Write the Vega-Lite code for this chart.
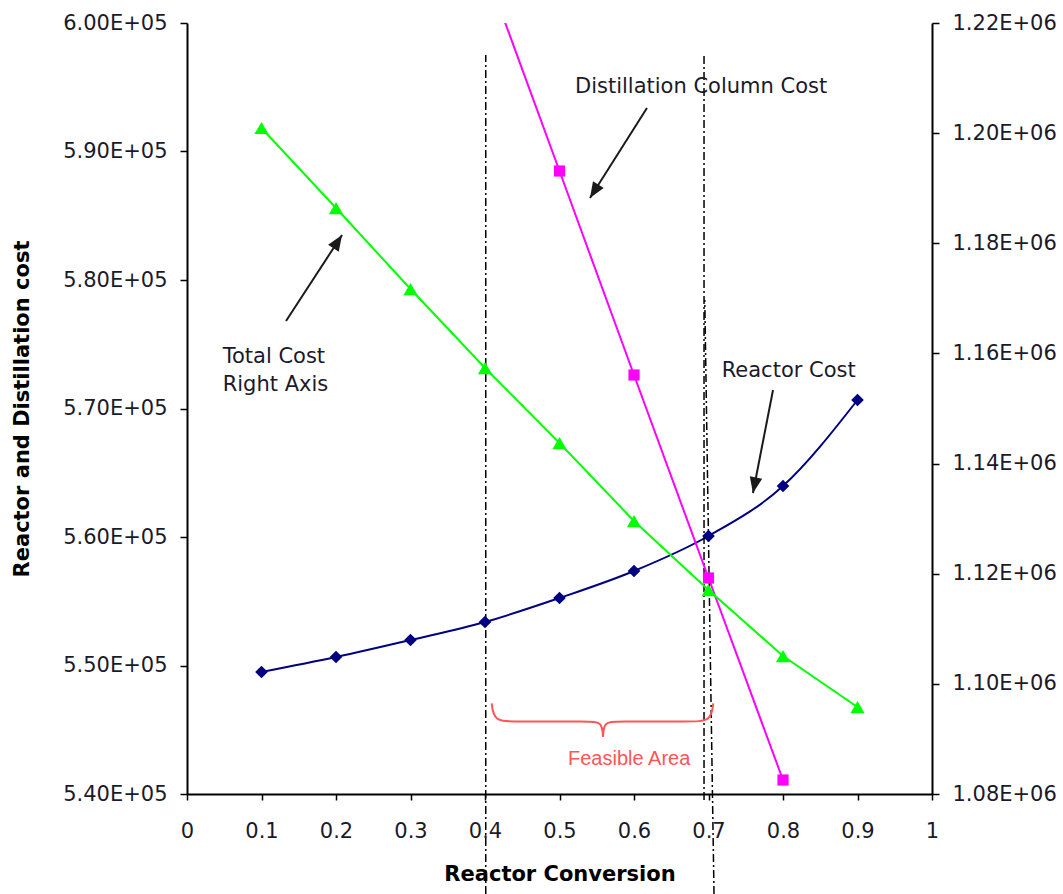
{
  "$schema": "https://vega.github.io/schema/vega-lite/v6.json",
  "width": 745,
  "height": 771,
  "autosize": {"type": "none"},
  "padding": {"left": 187, "top": 23, "right": 131, "bottom": 100},
  "background": "white",
  "config": {
    "view": {"stroke": null},
    "axis": {
      "grid": false,
      "domainColor": "#000",
      "domainWidth": 2,
      "tickColor": "#000",
      "tickWidth": 1.5,
      "labelFont": "DejaVu Sans",
      "labelFontSize": 21,
      "labelColor": "#1a1a2a",
      "labelFlush": false,
      "labelOverlap": false,
      "titleFont": "DejaVu Sans",
      "titleFontSize": 21,
      "titleFontWeight": "bold",
      "titleColor": "#000"
    }
  },
  "datasets": {
    "reactor": [
      {"x": 0.1, "cost": 549494}, {"x": 0.2, "cost": 550661}, {"x": 0.3, "cost": 551984},
      {"x": 0.4, "cost": 553385}, {"x": 0.5, "cost": 555253}, {"x": 0.6, "cost": 557354},
      {"x": 0.7, "cost": 560078}, {"x": 0.8, "cost": 563969}, {"x": 0.9, "cost": 570661}
    ],
    "distill": [
      {"x": 0.4, "cost": 604300}, {"x": 0.5, "cost": 588482}, {"x": 0.6, "cost": 572607},
      {"x": 0.7, "cost": 556809}, {"x": 0.8, "cost": 541089}
    ],
    "total": [
      {"x": 0.1, "total": 1200934}, {"x": 0.2, "total": 1186406}, {"x": 0.3, "total": 1171698},
      {"x": 0.4, "total": 1157353}, {"x": 0.5, "total": 1143735}, {"x": 0.6, "total": 1129571},
      {"x": 0.7, "total": 1117042}, {"x": 0.8, "total": 1105058}, {"x": 0.9, "total": 1095797}
    ],
    "guides": [
      {"id": "a", "x": 0.401, "y": 532218, "x2": 0.401, "y2": 597510},
      {"id": "b", "x": 0.694, "y": 539533, "x2": 0.694, "y2": 597510},
      {"id": "c", "x": 0.7074, "y": 532218, "x2": 0.695, "y2": 578444}
    ],
    "brace": [
      {"part": "L", "i": 1, "x": 0.4090, "y": 547058},
      {"part": "L", "i": 2, "x": 0.4121, "y": 545642},
      {"part": "L", "i": 3, "x": 0.4403, "y": 545642},
      {"part": "L", "i": 4, "x": 0.5409, "y": 545642},
      {"part": "L", "i": 5, "x": 0.5570, "y": 545603},
      {"part": "L", "i": 6, "x": 0.5584, "y": 544459},
      {"part": "R", "i": 1, "x": 0.5584, "y": 544459},
      {"part": "R", "i": 2, "x": 0.5597, "y": 545603},
      {"part": "R", "i": 3, "x": 0.5758, "y": 545642},
      {"part": "R", "i": 4, "x": 0.6752, "y": 545642},
      {"part": "R", "i": 5, "x": 0.7034, "y": 545642},
      {"part": "R", "i": 6, "x": 0.7064, "y": 547058}
    ],
    "arrows": [
      {"id": 1, "x": 0.6174, "y": 593385, "x2": 0.5409, "y2": 586381},
      {"id": 2, "x": 0.1329, "y": 576809, "x2": 0.2081, "y2": 583501},
      {"id": 3, "x": 0.7866, "y": 571439, "x2": 0.7597, "y2": 563424}
    ],
    "labels": [
      {"label": "Distillation Column Cost", "x": 0.5208, "y": 594528},
      {"label": ["Total Cost", "Right Axis"], "x": 0.0479, "y": 573540},
      {"label": "Reactor Cost", "x": 0.7177, "y": 572474}
    ],
    "feasible": [
      {"label": "Feasible Area", "x": 0.5114, "y": 542257}
    ]
  },
  "layer": [
    {
      "layer": [
        {
          "data": {"name": "reactor"},
          "mark": {"type": "line", "color": "#000080", "strokeWidth": 2, "interpolate": "monotone"},
          "encoding": {
            "x": {"field": "x", "type": "quantitative", "scale": {"domain": [0, 1], "nice": false, "zero": false},
              "axis": {"title": "Reactor Conversion", "values": [0, 0.1, 0.2, 0.3, 0.4, 0.5, 0.6, 0.7, 0.8, 0.9, 1], "format": ".1~f", "tickSize": 6, "labelPadding": 20, "titlePadding": 22}},
            "y": {"field": "cost", "type": "quantitative", "scale": {"domain": [540000, 600000], "nice": false, "zero": false},
              "axis": {"orient": "left", "title": "Reactor and Distillation cost", "values": [540000, 550000, 560000, 570000, 580000, 590000, 600000], "labelExpr": "replace(format(datum.value, '.2e'), 'e+', 'E+0')", "tickSize": 7, "labelPadding": 13, "titlePadding": 30}}
          }
        },
        {
          "data": {"name": "guides"},
          "mark": {"type": "rule", "color": "#000", "strokeWidth": 1.5, "strokeDash": [8, 3, 2, 3]},
          "encoding": {
            "x": {"field": "x", "type": "quantitative", "scale": {"domain": [0, 1], "nice": false, "zero": false}},
            "x2": {"field": "x2"},
            "y": {"field": "y", "type": "quantitative", "scale": {"domain": [540000, 600000], "nice": false, "zero": false}},
            "y2": {"field": "y2"}
          }
        },
        {
          "data": {"name": "reactor"},
          "mark": {"type": "point", "shape": "diamond", "filled": true, "color": "#000080", "size": 160, "opacity": 1},
          "encoding": {
            "x": {"field": "x", "type": "quantitative", "scale": {"domain": [0, 1], "nice": false, "zero": false}},
            "y": {"field": "cost", "type": "quantitative", "scale": {"domain": [540000, 600000], "nice": false, "zero": false}}
          }
        },
        {
          "data": {"name": "distill"},
          "mark": {"type": "line", "color": "#FF00FF", "strokeWidth": 2, "clip": true},
          "encoding": {
            "x": {"field": "x", "type": "quantitative", "scale": {"domain": [0, 1], "nice": false, "zero": false}},
            "y": {"field": "cost", "type": "quantitative", "scale": {"domain": [540000, 600000], "nice": false, "zero": false}}
          }
        },
        {
          "data": {"name": "distill"},
          "mark": {"type": "point", "shape": "square", "filled": true, "color": "#FF00FF", "size": 125, "opacity": 1, "clip": true},
          "encoding": {
            "x": {"field": "x", "type": "quantitative", "scale": {"domain": [0, 1], "nice": false, "zero": false}},
            "y": {"field": "cost", "type": "quantitative", "scale": {"domain": [540000, 600000], "nice": false, "zero": false}}
          }
        },
        {
          "data": {"name": "brace"},
          "mark": {"type": "line", "color": "#FF5555", "strokeWidth": 2, "interpolate": "basis"},
          "encoding": {
            "x": {"field": "x", "type": "quantitative", "scale": {"domain": [0, 1], "nice": false, "zero": false}},
            "y": {"field": "y", "type": "quantitative", "scale": {"domain": [540000, 600000], "nice": false, "zero": false}},
            "detail": {"field": "part"},
            "order": {"field": "i", "type": "quantitative"}
          }
        },
        {
          "data": {"name": "arrows"},
          "mark": {"type": "rule", "color": "#1a1a1a", "strokeWidth": 2},
          "encoding": {
            "x": {"field": "x", "type": "quantitative", "scale": {"domain": [0, 1], "nice": false, "zero": false}},
            "x2": {"field": "x2"},
            "y": {"field": "y", "type": "quantitative", "scale": {"domain": [540000, 600000], "nice": false, "zero": false}},
            "y2": {"field": "y2"}
          }
        },
        {
          "data": {"name": "arrows"},
          "transform": [{"filter": "datum.id == 1"}],
          "mark": {"type": "point", "shape": "M0,0L0.4,1L-0.4,1Z", "filled": true, "color": "#1a1a1a", "size": 1000, "angle": 212, "opacity": 1, "strokeWidth": 0},
          "encoding": {
            "x": {"field": "x2", "type": "quantitative", "scale": {"domain": [0, 1], "nice": false, "zero": false}},
            "y": {"field": "y2", "type": "quantitative", "scale": {"domain": [540000, 600000], "nice": false, "zero": false}}
          }
        },
        {
          "data": {"name": "arrows"},
          "transform": [{"filter": "datum.id == 2"}],
          "mark": {"type": "point", "shape": "M0,0L0.4,1L-0.4,1Z", "filled": true, "color": "#1a1a1a", "size": 1000, "angle": 33, "opacity": 1, "strokeWidth": 0},
          "encoding": {
            "x": {"field": "x2", "type": "quantitative", "scale": {"domain": [0, 1], "nice": false, "zero": false}},
            "y": {"field": "y2", "type": "quantitative", "scale": {"domain": [540000, 600000], "nice": false, "zero": false}}
          }
        },
        {
          "data": {"name": "arrows"},
          "transform": [{"filter": "datum.id == 3"}],
          "mark": {"type": "point", "shape": "M0,0L0.4,1L-0.4,1Z", "filled": true, "color": "#1a1a1a", "size": 1000, "angle": 191, "opacity": 1, "strokeWidth": 0},
          "encoding": {
            "x": {"field": "x2", "type": "quantitative", "scale": {"domain": [0, 1], "nice": false, "zero": false}},
            "y": {"field": "y2", "type": "quantitative", "scale": {"domain": [540000, 600000], "nice": false, "zero": false}}
          }
        },
        {
          "data": {"name": "labels"},
          "mark": {"type": "text", "font": "DejaVu Sans", "fontSize": 21, "color": "#1a1a2a", "align": "left", "baseline": "alphabetic", "lineHeight": 28},
          "encoding": {
            "x": {"field": "x", "type": "quantitative", "scale": {"domain": [0, 1], "nice": false, "zero": false}},
            "y": {"field": "y", "type": "quantitative", "scale": {"domain": [540000, 600000], "nice": false, "zero": false}},
            "text": {"field": "label"}
          }
        },
        {
          "data": {"name": "feasible"},
          "mark": {"type": "text", "font": "Liberation Sans", "fontSize": 20, "color": "#FF5555", "align": "left", "baseline": "alphabetic"},
          "encoding": {
            "x": {"field": "x", "type": "quantitative", "scale": {"domain": [0, 1], "nice": false, "zero": false}},
            "y": {"field": "y", "type": "quantitative", "scale": {"domain": [540000, 600000], "nice": false, "zero": false}},
            "text": {"field": "label"}
          }
        }
      ]
    },
    {
      "layer": [
        {
          "data": {"name": "total"},
          "mark": {"type": "line", "color": "#00FF00", "strokeWidth": 2},
          "encoding": {
            "x": {"field": "x", "type": "quantitative", "scale": {"domain": [0, 1], "nice": false, "zero": false}},
            "y": {"field": "total", "type": "quantitative", "scale": {"domain": [1080000, 1220000], "nice": false, "zero": false},
              "axis": {"orient": "right", "title": null, "values": [1080000, 1100000, 1120000, 1140000, 1160000, 1180000, 1200000, 1220000], "labelExpr": "replace(format(datum.value, '.2e'), 'e+', 'E+0')", "tickSize": 7, "labelPadding": 13}}
          }
        },
        {
          "data": {"name": "total"},
          "mark": {"type": "point", "shape": "triangle-up", "filled": true, "color": "#00FF00", "size": 200, "opacity": 1},
          "encoding": {
            "x": {"field": "x", "type": "quantitative", "scale": {"domain": [0, 1], "nice": false, "zero": false}},
            "y": {"field": "total", "type": "quantitative", "scale": {"domain": [1080000, 1220000], "nice": false, "zero": false}}
          }
        }
      ]
    }
  ],
  "resolve": {"scale": {"y": "independent"}}
}
